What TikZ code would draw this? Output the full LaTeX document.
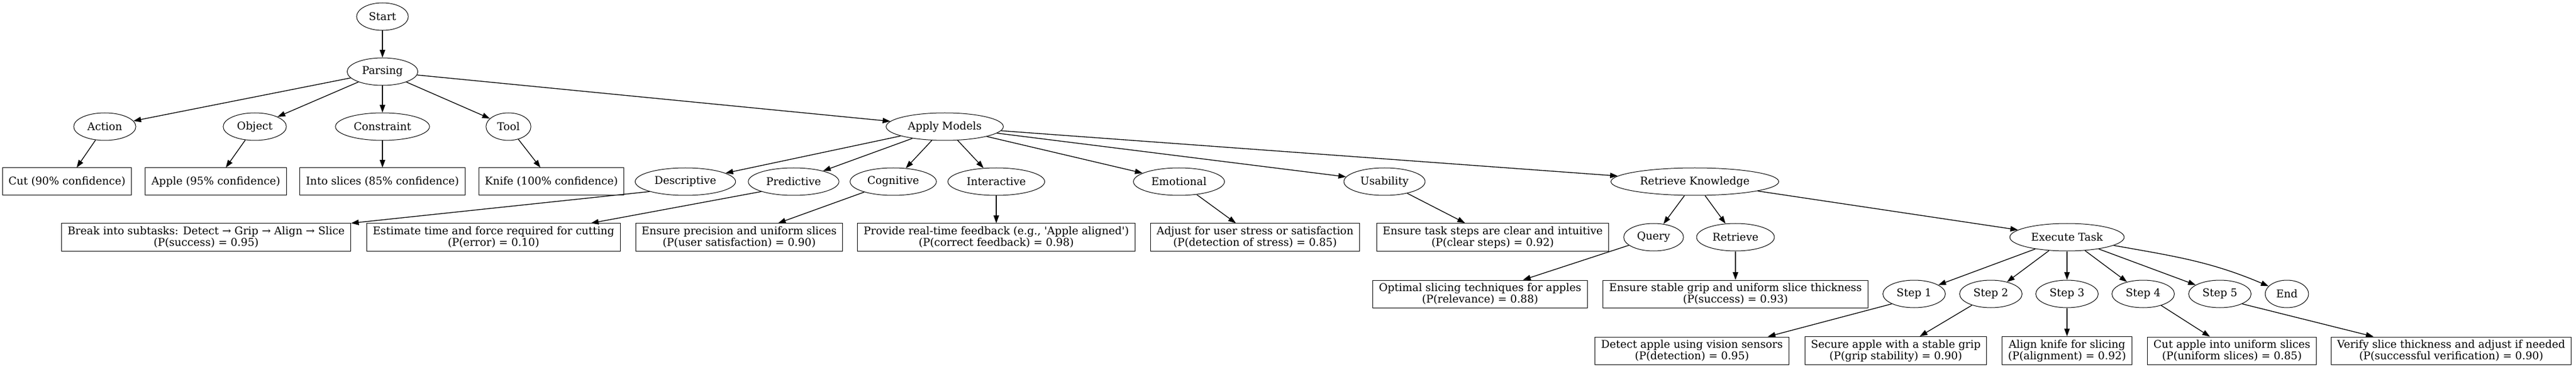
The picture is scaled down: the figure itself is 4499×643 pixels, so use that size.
\documentclass[tikz,border=0pt]{standalone}
\usepackage{fontspec}
\setmainfont{DejaVu Serif}
\usetikzlibrary{shapes.geometric, arrows.meta}

\begin{document}
\begin{tikzpicture}[x=0.75pt, y=0.75pt,
	every node/.style={font=\fontsize{14pt}{15pt}\selectfont},
	oval/.style={ellipse, draw, line width=0.75pt, inner xsep=6pt, inner ysep=4pt, minimum width=54pt, minimum height=36pt},
	leaf/.style={rectangle, draw, line width=0.75pt, align=center, inner xsep=8pt, inner ysep=4pt, minimum width=54pt, minimum height=36pt},
	arr/.style={-{Triangle[length=10pt, width=7pt]}, line width=1pt}]

			\useasboundingbox (0,0) rectangle (4499,643);

			\node [oval] (start) at (668,614) {Start};
			\node [oval] (parse) at (668,518) {Parsing};

			\foreach \name/\x/\txt in {action/183/Action, object/445/Object, constr/668/Constraint, tool/888/Tool}
				\node [oval] (\name) at (\x,422) {\txt};
			\node [oval] (apply) at (1650,422) {Apply Models};

			\node [leaf] (cut) at (117,326) {Cut (90\% confidence)};
			\node [leaf] (apple) at (377,326) {Apple (95\% confidence)};
			\node [leaf] (slices) at (668,326) {Into slices (85\% confidence)};
			\node [leaf] (knife) at (963,326) {Knife (100\% confidence)};

			\foreach \name/\x/\txt in {desc/1197/Descriptive, pred/1386/Predictive, cogn/1560/Cognitive, inter/1740/Interactive, emo/2059/Emotional, usab/2418/Usability}
				\node [oval] (\name) at (\x,326) {\txt};
			\node [oval] (rk) at (2960,326) {Retrieve Knowledge};

			\node [leaf] (brk) at (360,229) {Break into subtasks: Detect → Grip → Align → Slice\\(P(success) = 0.95)};
			\node [leaf] (est) at (862,229) {Estimate time and force required for cutting\\(P(error) = 0.10)};
			\node [leaf] (prec) at (1291,229) {Ensure precision and uniform slices\\(P(user satisfaction) = 0.90)};
			\node [leaf] (feed) at (1740,229) {Provide real-time feedback (e.g., \textquotesingle Apple aligned\textquotesingle)\\(P(correct feedback) = 0.98)};
			\node [leaf] (stress) at (2192,229) {Adjust for user stress or satisfaction\\(P(detection of stress) = 0.85)};
			\node [leaf] (clear) at (2607,229) {Ensure task steps are clear and intuitive\\(P(clear steps) = 0.92)};
			\node [oval] (query) at (2888,229) {Query};
			\node [oval] (retr) at (3031,229) {Retrieve};
			\node [oval] (exec) at (3610,229) {Execute Task};

			\node [leaf] (optim) at (2585,130) {Optimal slicing techniques for apples\\(P(relevance) = 0.88)};
			\node [leaf] (grip) at (3031,130) {Ensure stable grip and uniform slice thickness\\(P(success) = 0.93)};
			\foreach \i/\x in {1/3343, 2/3477, 3/3610, 4/3743, 5/3877}
				\node [oval] (step\i) at (\x,130) {Step \i};
			\node [oval] (finish) at (3994,130) {End};

			\node [leaf] (detect) at (2955,31) {Detect apple using vision sensors\\(P(detection) = 0.95)};
			\node [leaf] (secure) at (3311,31) {Secure apple with a stable grip\\(P(grip stability) = 0.90)};
			\node [leaf] (align) at (3610,31) {Align knife for slicing\\(P(alignment) = 0.92)};
			\node [leaf] (slice) at (3898,31) {Cut apple into uniform slices\\(P(uniform slices) = 0.85)};
			\node [leaf] (verify) at (4281,31) {Verify slice thickness and adjust if needed\\(P(successful verification) = 0.90)};

			\draw [arr] (start) -- (parse);
			\foreach \n in {action, object, constr, tool, apply}
				\draw [arr] (parse) -- (\n);
			\foreach \a/\b in {action/cut, object/apple, constr/slices, tool/knife}
				\draw [arr] (\a) -- (\b);

			\foreach \n in {desc, pred, cogn, inter, emo, usab, rk}
				\draw [arr] (apply) -- (\n);
			\draw [arr] (desc.south west) -- (brk.north east);
			\draw [arr] (pred.south west) -- ([xshift=-39pt]est.north east);
			\foreach \a/\b in {cogn/prec, inter/feed, emo/stress, usab/clear}
				\draw [arr] (\a) -- (\b);

			\foreach \n in {query, retr, exec}
				\draw [arr] (rk) -- (\n);
			\draw [arr] (query) -- (optim);
			\draw [arr] (retr) -- (grip);

			\foreach \i in {1,...,5}
				\draw [arr] (exec) -- (step\i);
			\draw [arr] (exec) to[out=-10, in=157] (finish);

			\draw [arr] (step1.south west) -- ([xshift=-28pt]detect.north east);
			\foreach \a/\b in {step2/secure, step3/align, step4/slice}
				\draw [arr] (\a) -- (\b);
			\draw [arr] (step5.south east) -- ([xshift=56pt]verify.north west);
			\end{tikzpicture}
\end{document}
